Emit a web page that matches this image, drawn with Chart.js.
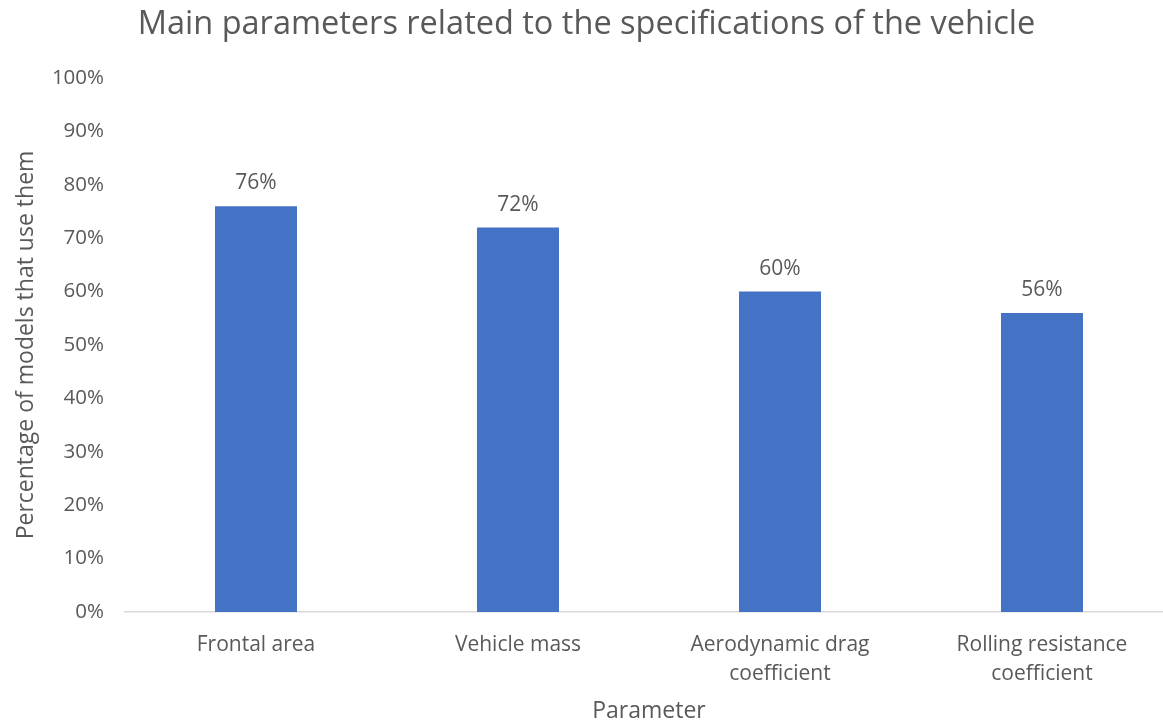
<!DOCTYPE html>
<html>
<head>
<meta charset="utf-8">
<script src="https://cdn.jsdelivr.net/npm/chart.js@4"></script>
<style>
  html, body { margin: 0; padding: 0; background: #fff; overflow: hidden; }
  #wrap { width: 1163px; height: 721px; overflow: hidden; }
</style>
</head>
<body>
<div id="wrap"><canvas id="paramChart" width="1173" height="721"></canvas></div>
<script>
// Share of models using each vehicle parameter
const categories = [
    'Frontal area',
    'Vehicle mass',
    ['Aerodynamic drag', 'coefficient'],
    ['Rolling resistance', 'coefficient']
];
const shares = [76, 72, 60, 56];
const yTicks = [0, 10, 20, 30, 40, 50, 60, 70, 80, 90, 100];

const textColor = '#595959';
const fontFamily = '"Open Sans", sans-serif';

// value labels above each bar
const barLabels = {
    id: 'barLabels',
    afterDatasetsDraw(chart) {
        const ctx = chart.ctx;
        const meta = chart.getDatasetMeta(0);
        ctx.save();
        ctx.fillStyle = textColor;
        ctx.font = '21px ' + fontFamily;
        ctx.textAlign = 'center';
        ctx.textBaseline = 'middle';
        meta.data.forEach((bar, i) => {
            ctx.fillText(shares[i] + '%', bar.x, bar.y - 23);
        });
        ctx.restore();
    }
};

new Chart(document.getElementById('paramChart'), {
    type: 'bar',
    data: {
        labels: categories,
        datasets: [{
            data: shares,
            backgroundColor: '#4472C4',
            categoryPercentage: 1,
            barPercentage: 0.313
        }]
    },
    options: {
        responsive: false,
        animation: false,
        layout: { padding: 0 },
        plugins: {
            legend: { display: false },
            tooltip: { enabled: false },
            title: {
                display: true,
                text: 'Main parameters related to the specifications of the vehicle',
                color: textColor,
                font: { family: fontFamily, size: 32.5, weight: 'normal', lineHeight: 1.2 },
                padding: { top: 5, bottom: 34 }
            }
        },
        scales: {
            x: {
                grid: { display: false, drawTicks: false },
                border: { color: '#d9d9d9', width: 1.5 },
                ticks: {
                    color: textColor,
                    font: { family: fontFamily, size: 21, lineHeight: 1.38 },
                    padding: 19,
                    maxRotation: 0
                },
                afterFit(scale) { scale.height = 109; },
                title: {
                    display: true,
                    text: 'Parameter',
                    color: textColor,
                    font: { family: fontFamily, size: 23, lineHeight: 1 },
                    padding: { top: 0, bottom: -2 }
                }
            },
            y: {
                min: 0,
                max: 100,
                afterBuildTicks(scale) {
                    scale.ticks = yTicks.map(v => ({ value: v }));
                },
                afterFit(scale) { scale.width = 125; },
                grid: { display: false, drawTicks: false },
                border: { display: false },
                ticks: {
                    color: textColor,
                    font: { family: fontFamily, size: 20.5 },
                    padding: 21,
                    callback: v => v + '%'
                },
                title: {
                    display: true,
                    text: 'Percentage of models that use them',
                    color: textColor,
                    font: { family: fontFamily, size: 23, lineHeight: 1.2 },
                    padding: { top: 13, bottom: 0 }
                }
            }
        }
    },
    plugins: [barLabels]
});
</script>
</body>
</html>
